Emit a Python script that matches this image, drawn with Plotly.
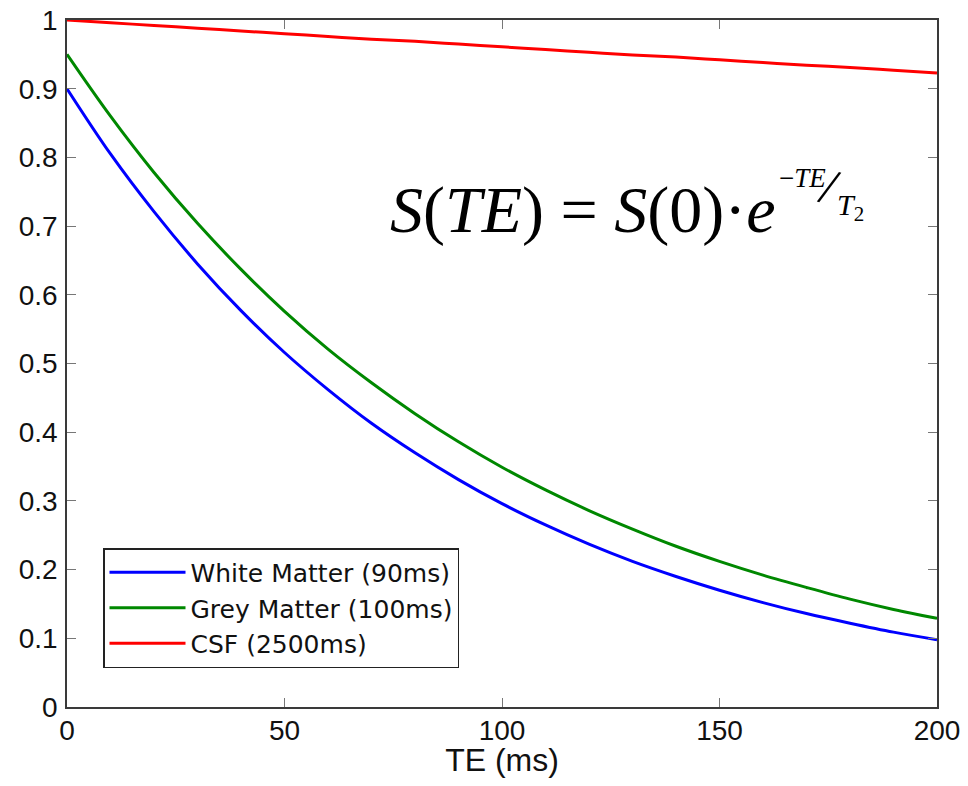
import plotly.graph_objects as go

te_ms = [0, 10, 20, 30, 40, 50, 60, 70, 80, 90, 100, 110, 120, 130, 140, 150, 160, 170, 180, 190, 200]
white_matter = [0.900, 0.805, 0.721, 0.645, 0.577, 0.516, 0.462, 0.413, 0.370, 0.331, 0.296,
                0.265, 0.237, 0.212, 0.190, 0.170, 0.152, 0.136, 0.122, 0.109, 0.098]
grey_matter = [0.950, 0.860, 0.778, 0.704, 0.637, 0.576, 0.521, 0.472, 0.427, 0.386, 0.349,
               0.316, 0.286, 0.259, 0.234, 0.212, 0.192, 0.174, 0.157, 0.142, 0.129]
csf = [1.000, 0.996, 0.992, 0.988, 0.984, 0.980, 0.976, 0.972, 0.969, 0.965, 0.961,
       0.957, 0.953, 0.949, 0.946, 0.942, 0.938, 0.934, 0.931, 0.927, 0.923]

series_names = ["White Matter (90ms)", "Grey Matter (100ms)", "CSF (2500ms)"]
series_colors = ["#0000ff", "#008800", "#ff0000"]
x_ticks = [0, 50, 100, 150, 200]
y_ticks = [0, 0.1, 0.2, 0.3, 0.4, 0.5, 0.6, 0.7, 0.8, 0.9, 1]
y_tick_text = ["0", "0.1", "0.2", "0.3", "0.4", "0.5", "0.6", "0.7", "0.8", "0.9", "1"]

SANS = "Liberation Sans, Arial, Helvetica"
WIDE_SANS = "DejaVu Sans, Liberation Sans, Arial"
SERIF = "Liberation Serif, Times New Roman"

fig = go.Figure()
for name, ys, col in zip(series_names, [white_matter, grey_matter, csf], series_colors):
    fig.add_trace(go.Scatter(x=te_ms, y=ys, mode="lines", name=name,
                             line=dict(color=col, width=3, shape="spline")))

axis_common = dict(showline=True, linecolor="#3a3a3a", linewidth=1.5, mirror="ticks",
                   ticks="inside", ticklen=9, tickcolor="#777777", tickwidth=1,
                   showgrid=False, zeroline=False, automargin=False,
                   ticklabeloverflow="allow",
                   tickfont=dict(family=SANS, size=28, color="#111111"))

fig.update_xaxes(range=[0, 200], tickvals=x_ticks, ticklabelstandoff=-2,
                 title=dict(text="TE (ms)", font=dict(family=SANS, size=32, color="#111111"), standoff=6),
                 **axis_common)
fig.update_yaxes(range=[0, 1], tickvals=y_ticks, ticktext=y_tick_text, ticklabelstandoff=2,
                 **axis_common)

# plot area in page px: left 67, right 937, top 20, bottom 707
def px_x(p):
    return (p - 67) / 870.0

def px_y(p):
    return (707 - p) / 687.0

fig.add_annotation(x=px_x(777), y=px_y(210), xref="paper", yref="paper", showarrow=False,
                   xanchor="right", yanchor="middle",
                   text="<i>S</i>(<i>TE</i>) = <i>S</i>(0)·<i>e</i>",
                   font=dict(family=SERIF, size=66, color="#000000"))
fig.add_annotation(x=px_x(777), y=px_y(178), xref="paper", yref="paper", showarrow=False,
                   xanchor="left", yanchor="middle",
                   text="−<i>TE</i>",
                   font=dict(family=SERIF, size=27, color="#000000"))
fig.add_annotation(x=px_x(829), y=px_y(187), xref="paper", yref="paper", showarrow=False,
                   xanchor="center", yanchor="middle", textangle=18,
                   text="/",
                   font=dict(family=SERIF, size=52, color="#000000"))
fig.add_annotation(x=px_x(835), y=px_y(207), xref="paper", yref="paper", showarrow=False,
                   xanchor="left", yanchor="middle",
                   text="<i>T</i><sub>2</sub>",
                   font=dict(family=SERIF, size=30, color="#000000"))

fig.update_layout(
    width=956, height=770,
    margin=dict(l=59, r=27, t=12, b=71),
    plot_bgcolor="white", paper_bgcolor="white",
    legend=dict(x=px_x(103), y=px_y(548), xanchor="left", yanchor="top",
                bgcolor="white", bordercolor="#222222", borderwidth=1.5,
                font=dict(family=WIDE_SANS, size=25, color="#111111"),
                tracegroupgap=0, itemwidth=76),
    showlegend=True,
)

fig.write_html("out.html")
